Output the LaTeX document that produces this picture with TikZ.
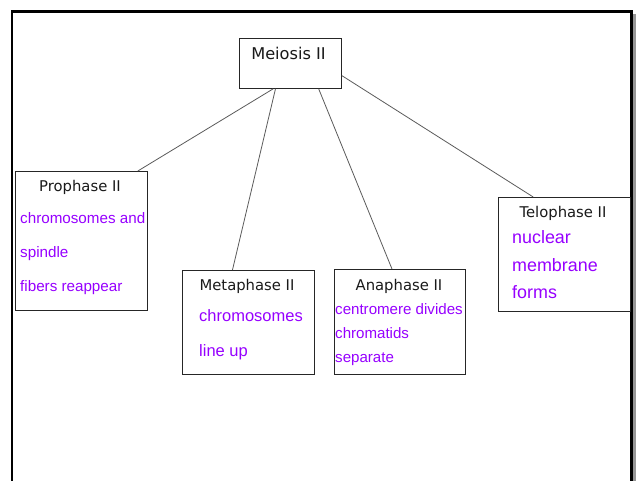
\documentclass[tikz,border=0pt]{standalone}
\usepackage{fontspec}
\setmainfont{Liberation Sans}
\newfontfamily\titlefont{DejaVu Sans}
\usetikzlibrary{calc}
\definecolor{stagetext}{RGB}{150,0,255}
\definecolor{frameshadow}{RGB}{150,150,150}
\definecolor{linkgray}{RGB}{90,90,90}

\begin{document}
\begin{tikzpicture}[x=1pt,y=-1pt,
  stagebox/.style={draw=black!85, line width=0.8pt, anchor=north west, inner sep=0pt},
  title/.style={font=\titlefont\fontsize{14.8}{17}\selectfont, text=black!90, anchor=base, inner sep=0pt},
  detail/.style={text=stagetext, anchor=base west, inner sep=0pt},
  link/.style={draw=linkgray, line width=0.8pt}]
\useasboundingbox (0,0) rectangle (637,481);

% page frame with its shadow on the right
\fill[frameshadow] (632,14) rectangle (636,481);
\draw[line width=2.2pt] (12,481) -- (12,11.5) -- (631.5,11.5) -- (631.5,481);

% boxes
\node[stagebox, minimum width=102pt, minimum height=50pt] (meiosis) at (239,38) {};
\node[stagebox, minimum width=132pt, minimum height=139pt] (prophase) at (15,171) {};
\node[stagebox, minimum width=132pt, minimum height=104pt] (metaphase) at (182,270) {};
\node[stagebox, minimum width=131pt, minimum height=105pt] (anaphase) at (334,269) {};
\node[stagebox, minimum width=132pt, minimum height=114pt] (telophase) at (498,197) {};

% connectors
\draw[link] ($(meiosis.south west)!0.333!(meiosis.south east)$) -- ($(prophase.north west)!0.925!(prophase.north east)$);
\draw[link] ($(meiosis.south west)!0.355!(meiosis.south east)$) -- ($(metaphase.north west)!0.38!(metaphase.north east)$);
\draw[link] ($(meiosis.south west)!0.775!(meiosis.south east)$) -- ($(anaphase.north west)!0.44!(anaphase.north east)$);
\draw[link] ($(meiosis.north east)!0.74!(meiosis.south east)$) -- ($(telophase.north west)!0.265!(telophase.north east)$);

% titles
\node[title, font=\titlefont\fontsize{16.2}{18}\selectfont] (tmei) at (288.5,59.3) {Meiosis II};
\node[title] (tpro) at (80,191.7) {Prophase II};
\node[title] (tmet) at (247,290) {Metaphase II};
\node[title] (tana) at (399,290) {Anaphase II};
\node[title] (ttel) at (563,217.3) {Telophase II};

% stage descriptions
\node[detail, font=\fontsize{15.2}{17}\selectfont] (pro1) at (20,224) {chromosomes and};
\node[detail, font=\fontsize{15.2}{17}\selectfont] (pro2) at (20,257.5) {spindle};
\node[detail, font=\fontsize{15.2}{17}\selectfont] (pro3) at (20,291) {fibers reappear};
\node[detail, font=\fontsize{16.5}{18}\selectfont] (met1) at (199,321.5) {chromosomes};
\node[detail, font=\fontsize{16.5}{18}\selectfont] (met2) at (199,356.5) {line up};
\node[detail, font=\fontsize{15.1}{17}\selectfont] (ana1) at (335,314) {centromere divides};
\node[detail, font=\fontsize{15.1}{17}\selectfont] (ana2) at (335,338) {chromatids};
\node[detail, font=\fontsize{15.1}{17}\selectfont] (ana3) at (335,362) {separate};
\node[detail, font=\fontsize{17.9}{20}\selectfont] (tel1) at (512,243.5) {nuclear};
\node[detail, font=\fontsize{17.9}{20}\selectfont] (tel2) at (512,271) {membrane};
\node[detail, font=\fontsize{17.9}{20}\selectfont] (tel3) at (512,298.5) {forms};
\end{tikzpicture}
\end{document}
